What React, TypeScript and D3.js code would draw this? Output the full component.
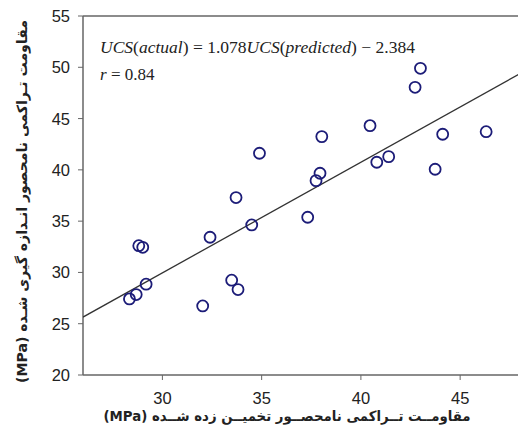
import React from "react";
import * as d3 from "d3";

const predicted = [28.34, 28.68, 29.18, 28.81, 29.01, 32.03, 32.4, 33.49, 33.81, 34.5, 33.71, 34.89, 38.03, 37.94, 37.74, 37.32, 43.0, 42.73, 40.46, 44.12, 46.31, 41.4, 40.8, 43.74];
const actual = [27.42, 27.84, 28.85, 32.61, 32.45, 26.73, 33.43, 29.24, 28.33, 34.63, 37.3, 41.62, 43.24, 39.67, 38.95, 35.38, 49.9, 48.05, 44.31, 43.47, 43.72, 41.29, 40.74, 40.06];
const xTicks = [30, 35, 40, 45];
const yTicks = [20, 25, 30, 35, 40, 45, 50, 55];
const slope = 1.078;
const intercept = -2.384;
const xTitle = "مقاومــت تــراکمی نامحصــور تخمیــن زده شــده (MPa)";
const yTitle = "مقاومت تـراکمی نامحصور انـدازه گیری شـده (MPa)";

export default function App() {
  const W = 518, H = 427;
  const left = 83, top = 16, bottom = 375;
  const x = d3.scaleLinear().domain([26, 48]).range([left, left + 22 * 19.85]);
  const y = d3.scaleLinear().domain([20, 55]).range([bottom, top]);
  const axisColor = "#666";
  const lineX = [26, 48];
  const line = d3.line<number>().x((d) => x(d)).y((d) => y(slope * d + intercept));
  return (
    <svg width={W} height={H} style={{ position: "absolute", left: 0, top: 0, background: "#fff" }}>
      <defs>
        <clipPath id="plot">
          <rect x={left} y={top} width={W - left} height={bottom - top} />
        </clipPath>
      </defs>
      <rect width={W} height={H} fill="#fff" />
      <line x1={left} x2={W} y1={top} y2={top} stroke={axisColor} strokeWidth={1.5} />
      <line x1={left} x2={left} y1={top} y2={bottom} stroke={axisColor} strokeWidth={1.5} />
      <line x1={left} x2={W} y1={bottom} y2={bottom} stroke={axisColor} strokeWidth={1.5} />
      {yTicks.map((t) => (
        <g key={"y" + t}>
          <line x1={left - 5} x2={left} y1={y(t)} y2={y(t)} stroke={axisColor} strokeWidth={1} />
          <text x={left - 13} y={y(t)} dy="0.36em" textAnchor="end" fontFamily="Liberation Sans, Arial" fontSize={16.5} fill="#222">{t}</text>
        </g>
      ))}
      {xTicks.map((t) => (
        <g key={"x" + t}>
          <line x1={x(t)} x2={x(t)} y1={bottom} y2={bottom + 5} stroke={axisColor} strokeWidth={1} />
          <text x={x(t)} y={404} textAnchor="middle" fontFamily="Liberation Sans, Arial" fontSize={16.5} fill="#222">{t}</text>
        </g>
      ))}
      <g clipPath="url(#plot)">
        <path d={line(lineX) || ""} stroke="#333" strokeWidth={1.3} fill="none" />
        {predicted.map((p, i) => (
          <circle key={i} cx={x(p)} cy={y(actual[i])} r={5.5} fill="none" stroke="#1c1c78" strokeWidth={1.8} />
        ))}
      </g>
      <text x={100} y={53} fontFamily="Liberation Serif, Times New Roman" fontSize={17} fill="#222" textLength={315} lengthAdjust="spacingAndGlyphs">
        <tspan fontStyle="italic">UCS</tspan>
        <tspan>(</tspan>
        <tspan fontStyle="italic">actual</tspan>
        <tspan>) = 1.078</tspan>
        <tspan fontStyle="italic">UCS</tspan>
        <tspan>(</tspan>
        <tspan fontStyle="italic">predicted</tspan>
        <tspan>) − 2.384</tspan>
      </text>
      <text x={100} y={80} fontFamily="Liberation Serif, Times New Roman" fontSize={17} fill="#222">
        <tspan fontStyle="italic">r</tspan>
        <tspan> = 0.84</tspan>
      </text>
      <text x={287} y={421} textAnchor="middle" fontFamily="DejaVu Sans" fontWeight="bold" fontSize={14} fill="#222" direction="rtl" textLength={367} lengthAdjust="spacingAndGlyphs">{xTitle}</text>
      <text transform={`translate(27,${(20 + 383) / 2}) rotate(-90)`} textAnchor="middle" fontFamily="DejaVu Sans" fontWeight="bold" fontSize={14} fill="#222" direction="rtl" textLength={363} lengthAdjust="spacingAndGlyphs">{yTitle}</text>
    </svg>
  );
}
